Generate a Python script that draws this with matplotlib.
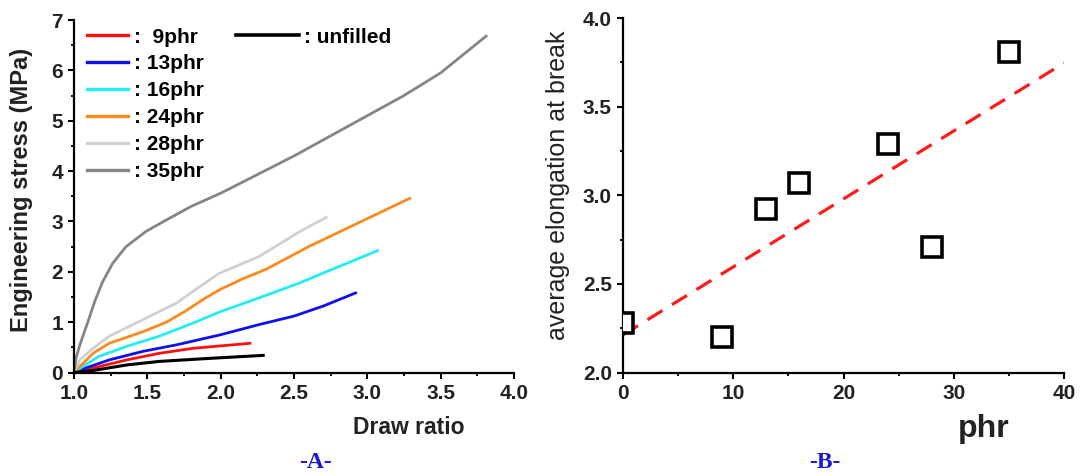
import numpy as np
import matplotlib
matplotlib.use("Agg")
import matplotlib.pyplot as plt
from matplotlib.ticker import MultipleLocator, FormatStrFormatter

plt.rcParams['font.family'] = ['Liberation Sans', 'DejaVu Sans']

# ---- panel A: stress / draw ratio curves ----
ratio_unf = [1.0, 1.13, 1.36, 1.58, 1.92, 2.29]
stress_unf = [0.0, 0.04, 0.15, 0.22, 0.28, 0.34]

ratio_9 = [1.0, 1.13, 1.36, 1.58, 1.81, 2.2]
stress_9 = [0.0, 0.09, 0.25, 0.38, 0.48, 0.58]

ratio_13 = [1.0, 1.08, 1.24, 1.47, 1.7, 2.0, 2.26, 2.5, 2.7, 2.92]
stress_13 = [0.0, 0.09, 0.25, 0.42, 0.55, 0.75, 0.95, 1.12, 1.32, 1.58]

ratio_16 = [1.0, 1.06, 1.17, 1.36, 1.58, 1.81, 2.0, 2.26, 2.54, 2.72, 3.07]
stress_16 = [0.0, 0.12, 0.32, 0.52, 0.72, 0.98, 1.21, 1.48, 1.78, 2.0, 2.42]

ratio_24 = [1.0, 1.04, 1.13, 1.24, 1.47, 1.63, 1.76, 1.88, 1.99, 2.15, 2.31, 2.6, 3.29]
stress_24 = [0.0, 0.12, 0.38, 0.58, 0.81, 1.0, 1.22, 1.45, 1.64, 1.86, 2.05, 2.5, 3.46]

ratio_28 = [1.0, 1.04, 1.13, 1.24, 1.47, 1.7, 1.86, 1.99, 2.26, 2.54, 2.72]
stress_28 = [0.0, 0.25, 0.48, 0.72, 1.05, 1.38, 1.71, 1.97, 2.3, 2.8, 3.08]

ratio_35 = [1.0, 1.015, 1.04, 1.07, 1.1, 1.14, 1.195, 1.264, 1.355, 1.49, 1.63,
            1.8, 2.0, 2.25, 2.5, 2.75, 3.0, 3.25, 3.5, 3.81]
stress_35 = [0.0, 0.3, 0.55, 0.8, 1.05, 1.4, 1.8, 2.17, 2.5, 2.8, 3.03,
             3.3, 3.56, 3.93, 4.3, 4.7, 5.1, 5.5, 5.95, 6.68]

# ---- panel B: elongation at break ----
phr = [0, 9, 13, 16, 24, 28, 35]
elongation = [2.28, 2.20, 2.92, 3.07, 3.29, 2.71, 3.81]

W, H = 1081, 476
fig = plt.figure(figsize=(W / 100, H / 100), dpi=100)

def style_axes(ax):
    for s in ['top', 'right']:
        ax.spines[s].set_visible(False)
    for s in ['left', 'bottom']:
        ax.spines[s].set_linewidth(1.6)
    ax.tick_params(which='major', direction='out', length=4, width=1.5,
                   labelsize=15, pad=4)
    ax.tick_params(which='minor', direction='out', length=2.5, width=1.3)
    for lab in ax.get_xticklabels() + ax.get_yticklabels():
        lab.set_fontweight('bold')
        lab.set_color('#222222')

axA = fig.add_axes([74 / W, 1 - 372.5 / H, 440 / W, 352.5 / H])
curves = [
    (ratio_9, stress_9, '#ff1010', ':  9phr'),
    (ratio_13, stress_13, '#1010e8', ': 13phr'),
    (ratio_16, stress_16, '#22eef2', ': 16phr'),
    (ratio_24, stress_24, '#f88a1e', ': 24phr'),
    (ratio_28, stress_28, '#d0d0d0', ': 28phr'),
    (ratio_35, stress_35, '#858585', ': 35phr'),
]
handles = []
for x, y, c, lab in curves:
    l, = axA.plot(x, y, color=c, lw=2.0, label=lab, solid_joinstyle='round')
    handles.append(l)
lu, = axA.plot(ratio_unf, stress_unf, color='black', lw=2.2, label=': unfilled')

axA.set_xlim(1.0, 4.0)
axA.set_ylim(0, 7)
axA.xaxis.set_major_locator(MultipleLocator(0.5))
axA.xaxis.set_minor_locator(MultipleLocator(0.25))
axA.yaxis.set_major_locator(MultipleLocator(1))
axA.yaxis.set_minor_locator(MultipleLocator(0.5))
axA.xaxis.set_major_formatter(FormatStrFormatter('%.1f'))
style_axes(axA)

leg_font = {'weight': 'bold', 'size': 15}
leg1 = axA.legend(handles=handles, loc='upper left', bbox_to_anchor=(-0.009, 1.026),
                  frameon=False, prop=leg_font, handlelength=2.0,
                  handletextpad=0.25, labelspacing=0.38, borderaxespad=0.4)
for h in leg1.get_lines():
    h.set_linewidth(2.4)
axA.add_artist(leg1)
leg2 = axA.legend(handles=[lu], loc='upper left', bbox_to_anchor=(0.331, 1.026),
                  frameon=False, prop=leg_font, handlelength=3.0,
                  handletextpad=0.25, borderaxespad=0.4)
for h in leg2.get_lines():
    h.set_linewidth(2.6)

# ---- panel B ----
axB = fig.add_axes([623 / W, 1 - 372.5 / H, 441 / W, 354.5 / H])
coef = np.polyfit(phr, elongation, 1)
xfit = np.array([0, 40])
axB.plot(xfit, np.polyval(coef, xfit), color='#ff1a1a', lw=2.3,
         dashes=(5.5, 3.5), zorder=2)
axB.plot(phr, elongation, linestyle='none', marker='s', markersize=14.5,
         markerfacecolor='white', markeredgecolor='black', markeredgewidth=2.6,
         zorder=3)
axB.set_xlim(0, 40)
axB.set_ylim(2.0, 4.0)
axB.xaxis.set_major_locator(MultipleLocator(10))
axB.xaxis.set_minor_locator(MultipleLocator(5))
axB.yaxis.set_major_locator(MultipleLocator(0.5))
axB.yaxis.set_minor_locator(MultipleLocator(0.25))
axB.yaxis.set_major_formatter(FormatStrFormatter('%.1f'))
style_axes(axB)

# ---- labels ----
fig.text(22 / W, 1 - 190 / H, 'Engineering stress (MPa)', rotation=90,
         ha='center', va='center', fontsize=17, fontweight='bold', color='#222222')
fig.text(409 / W, 1 - 427 / H, 'Draw ratio', ha='center', va='center',
         fontsize=16.5, fontweight='bold', color='#222222')
fig.text(558 / W, 1 - 185 / H, 'average elongation at break', rotation=90,
         ha='center', va='center', fontsize=18, color='#222222')
fig.text(984 / W, 1 - 429 / H, 'phr', ha='center', va='center',
         fontsize=23, fontweight='bold', color='#222222')
fig.text(315 / W, 1 - 463 / H, '-A-', ha='center', va='center', fontsize=17,
         fontweight='bold', family=['Liberation Serif', 'DejaVu Serif'], color='#1a1ad0')
fig.text(825 / W, 1 - 463 / H, '-B-', ha='center', va='center', fontsize=17,
         fontweight='bold', family=['Liberation Serif', 'DejaVu Serif'], color='#1a1ad0')

fig.savefig('out.png', dpi=100)
